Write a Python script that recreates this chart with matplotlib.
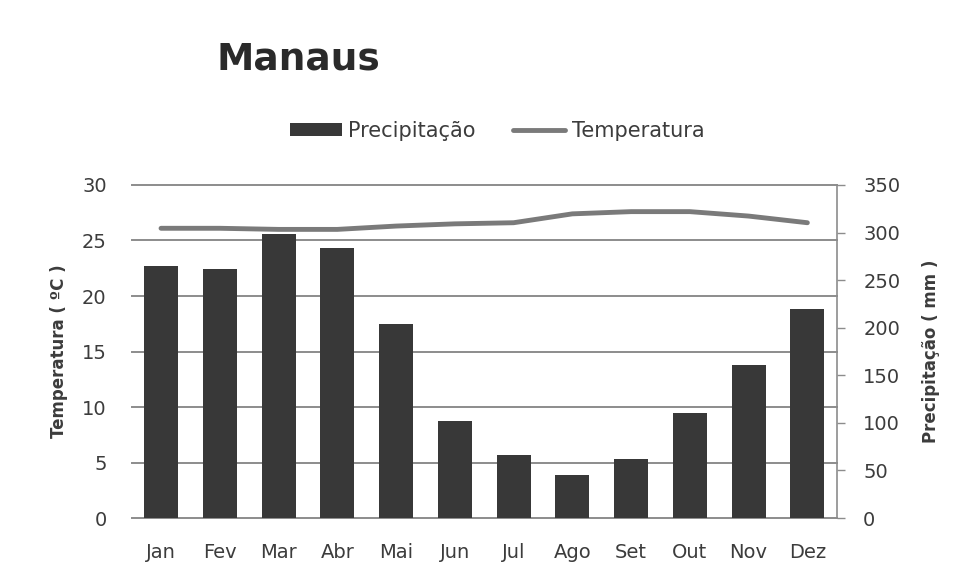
import numpy as np
import matplotlib
matplotlib.use("Agg")
import matplotlib.pyplot as plt

# dados
meses = ["Jan", "Fev", "Mar", "Abr", "Mai", "Jun", "Jul", "Ago", "Set", "Out", "Nov", "Dez"]
precipitacao = [265, 262, 298, 284, 204, 102, 66, 45, 62, 110, 161, 220]
temperatura = [26.1, 26.1, 26.0, 26.0, 26.3, 26.5, 26.6, 27.4, 27.6, 27.6, 27.2, 26.6]

cor_barra = "#383838"
cor_linha = "#7a7a7a"
cor_texto = "#3c3c3c"
cor_grade = "#8c8c8c"

fig = plt.figure(figsize=(9.68, 5.81), dpi=100)
ax2 = fig.add_axes([0.136, 0.1084, 0.7284, 0.5732])  # precipitação (direita)
ax = ax2.twinx()  # temperatura (esquerda)
x = np.arange(len(meses))

# barras de precipitação
ax2.bar(x, precipitacao, width=0.58, color=cor_barra, label="Precipitação", zorder=2)
ax2.set_ylim(0, 350)
ax2.yaxis.remove_overlapping_locs = False
ax2.set_yticks(np.arange(0, 351, 50))
ax2.set_yticks(np.linspace(0, 350, 7), minor=True)
ax2.grid(which="minor", axis="y", color=cor_grade, linewidth=1.4, clip_on=False)
ax2.set_axisbelow(True)
ax2.yaxis.tick_right()
ax2.yaxis.set_label_position("right")
ax2.tick_params(axis="y", which="major", direction="out", length=6, width=1,
                color=cor_grade, pad=13, labelsize=14, labelcolor=cor_texto)
ax2.tick_params(axis="y", which="minor", length=0)
ax2.set_ylabel("Precipitação ( mm )", fontsize=12, fontweight="bold",
               color=cor_texto, labelpad=16)
for s in ["top", "left", "bottom"]:
    ax2.spines[s].set_visible(False)
ax2.spines["right"].set_color(cor_grade)
ax2.spines["right"].set_linewidth(1.2)

ax2.set_xticks(x)
ax2.set_xticklabels(meses)
ax2.tick_params(axis="x", length=0, pad=18, labelsize=14, labelcolor=cor_texto)
ax2.set_xlim(-0.5, len(meses) - 0.5)

# linha de temperatura
ax.plot(x, temperatura, color=cor_linha, linewidth=3.5, label="Temperatura",
        solid_capstyle="round")
ax.set_ylim(0, 30)
ax.set_yticks(np.arange(0, 31, 5))
ax.yaxis.tick_left()
ax.yaxis.set_label_position("left")
ax.tick_params(axis="y", length=0, pad=18, labelsize=14, labelcolor=cor_texto)
ax.set_ylabel("Temperatura ( ºC )", fontsize=12, fontweight="bold",
              color=cor_texto, labelpad=10)
for s in ax.spines.values():
    s.set_visible(False)
ax.set_zorder(ax2.get_zorder() + 1)
ax.patch.set_visible(False)

fig.text(216 / 968, 1 - 60 / 581, "Manaus", fontsize=27, fontweight="bold",
         color="#2a2a2a", ha="left", va="center")

h1, l1 = ax2.get_legend_handles_labels()
h2, l2 = ax.get_legend_handles_labels()
fig.legend(h1 + h2, l1 + l2, loc="center", bbox_to_anchor=(497 / 968, 1 - 131 / 581),
           ncol=2, frameon=False, fontsize=15, handlelength=2.5, handleheight=0.6,
           handletextpad=0.3, columnspacing=1.8, labelcolor=cor_texto)

fig.savefig("out.png", dpi=100, facecolor="white")
